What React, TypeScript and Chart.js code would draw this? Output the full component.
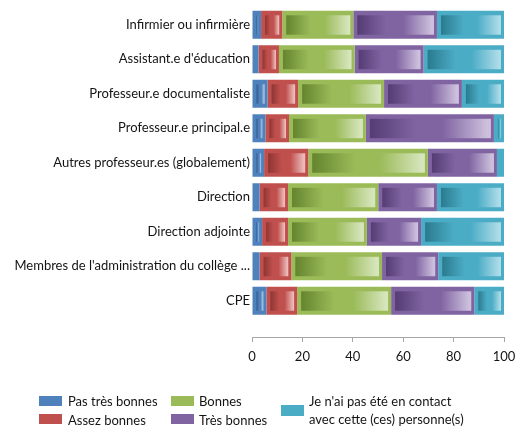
import { useEffect, useRef } from 'react';
import { Chart, registerables } from 'chart.js';

Chart.register(...registerables);

const categories = [
  'Infirmier ou infirmière',
  "Assistant.e d'éducation",
  'Professeur.e documentaliste',
  'Professeur.e principal.e',
  'Autres professeur.es (globalement)',
  'Direction',
  'Direction adjointe',
  "Membres de l'administration du collège ...",
  'CPE',
];

const seriesNames = [
  'Pas très bonnes',
  'Assez bonnes',
  'Bonnes',
  'Très bonnes',
  "Je n'ai pas été en contact avec cette (ces) personne(s)",
];

const pasTresBonnes = [3.6, 2.6, 6.2, 5.3, 4.8, 3.0, 4.0, 3.0, 5.7];
const assezBonnes = [8.4, 8.1, 12.1, 9.4, 17.5, 11.3, 10.3, 12.6, 12.2];
const bonnes = [28.2, 30.0, 34.1, 30.5, 47.5, 35.8, 31.3, 36.0, 37.3];
const tresBonnes = [33.2, 27.4, 30.9, 50.8, 27.4, 23.3, 21.5, 22.3, 33.0];
const pasEnContact = [26.6, 31.9, 16.7, 4.0, 2.8, 26.6, 32.9, 26.1, 11.8];

const xTicks = [0, 20, 40, 60, 80, 100];

const legendLines = [
  ['Pas très bonnes'],
  ['Assez bonnes'],
  ['Bonnes'],
  ['Très bonnes'],
  ["Je n'ai pas été en contact", 'avec cette (ces) personne(s)'],
];

const palette = [
  { base: '#4F81BD', dark: '#30598A', light: '#B8CCE6' },
  { base: '#C0504D', dark: '#8E3533', light: '#EDBDBC' },
  { base: '#9BBB59', dark: '#64842F', light: '#D6E5BC' },
  { base: '#8064A2', dark: '#553C73', light: '#CDC0DD' },
  { base: '#4BACC6', dark: '#2A7A8D', light: '#ADDCE8' },
];

const FONT = 'Lato, "Liberation Sans", sans-serif';
const TEXT = '#141414';

const gradientPlugin = {
  id: 'innerGradient',
  afterDatasetsDraw(chart: any) {
    const ctx = chart.ctx as CanvasRenderingContext2D;
    ctx.save();
    chart.data.datasets.forEach((_ds: any, di: number) => {
      const meta = chart.getDatasetMeta(di);
      const pal = palette[di];
      meta.data.forEach((el: any) => {
        const { x, y, base, height } = el.getProps(['x', 'y', 'base', 'height'], true);
        const left = Math.min(x, base);
        const right = Math.max(x, base);
        const top = y - height / 2;
        const il = left + 4;
        const ir = right - 3;
        const it = top + 4.5;
        const ib = top + height - 4;
        if (ir - il < 1) return;
        const g = ctx.createLinearGradient(il, 0, ir, 0);
        g.addColorStop(0, pal.dark);
        g.addColorStop(0.38, pal.base);
        g.addColorStop(0.6, pal.base);
        g.addColorStop(0.97, pal.light);
        g.addColorStop(1, pal.light);
        ctx.fillStyle = g;
        ctx.fillRect(il, it, ir - il, ib - it);
      });
    });
    ctx.restore();
  },
};

const legendPlugin = {
  id: 'columnLegend',
  afterDraw(chart: any) {
    const ctx = chart.ctx as CanvasRenderingContext2D;
    const items = [
      { box: [39, 396, 23, 10], tx: 68, ty: [402] },
      { box: [39, 414, 23, 10], tx: 68, ty: [420.5] },
      { box: [171, 396, 23, 10], tx: 199, ty: [402] },
      { box: [171, 414, 23, 10], tx: 199, ty: [420.5] },
      { box: [281, 405, 23, 11], tx: 309, ty: [401.5, 419.5] },
    ];
    ctx.save();
    ctx.font = `13px ${FONT}`;
    ctx.textBaseline = 'middle';
    ctx.textAlign = 'left';
    items.forEach((it, i) => {
      const [bx, by, bw, bh] = it.box;
      ctx.fillStyle = palette[i].base;
      ctx.fillRect(bx, by, bw, bh);
      ctx.fillStyle = TEXT;
      legendLines[i].forEach((line, li) => {
        ctx.fillText(line, it.tx, it.ty[li]);
      });
    });
    ctx.restore();
  },
};

export default function App() {
  const ref = useRef<HTMLCanvasElement>(null);

  useEffect(() => {
    document.body.style.margin = '0';
    const canvas = ref.current;
    if (!canvas) return;
    const series = [pasTresBonnes, assezBonnes, bonnes, tresBonnes, pasEnContact];
    const datasets = series.map((arr, k) => ({
      label: seriesNames[k],
      data: arr.map((v, i) => ({ x: v, y: i })),
      backgroundColor: palette[k].base,
      borderWidth: 0,
      barPercentage: 0.81,
      categoryPercentage: 1,
    }));

    const chart = new Chart(canvas, {
      type: 'bar',
      data: { datasets } as any,
      options: {
        indexAxis: 'y',
        animation: false,
        responsive: false,
        maintainAspectRatio: false,
        layout: { padding: { top: 7.5, right: 16, bottom: 56.4, left: 0 } },
        plugins: {
          legend: { display: false },
          tooltip: { enabled: false },
        },
        scales: {
          x: {
            type: 'linear',
            stacked: true,
            min: 0,
            max: 100,
            afterBuildTicks: (s: any) => {
              s.ticks = xTicks.map((v) => ({ value: v }));
            },
            afterFit: (s: any) => {
              s.paddingLeft = 0;
              s.paddingRight = 0;
            },
            grid: { drawOnChartArea: false, drawTicks: true, tickLength: 5, color: '#a6a6a6' },
            border: { display: true, color: '#a6a6a6' },
            ticks: { padding: 7, color: TEXT, font: { family: FONT, size: 13 } },
          },
          y: {
            type: 'linear',
            stacked: true,
            reverse: true,
            offset: false,
            bounds: 'data',
            min: -0.5,
            max: 9.05,
            afterBuildTicks: (s: any) => {
              s.ticks = categories.map((_, i) => ({ value: i }));
            },
            afterFit: (s: any) => {
              s.width = 252;
              s.paddingTop = 0;
              s.paddingBottom = 0;
            },
            grid: { display: false, drawTicks: false, offset: false },
            border: { display: false },
            ticks: {
              autoSkip: false,
              padding: 2,
              color: TEXT,
              font: { family: FONT, size: 13 },
              callback: (v: any) => categories[Number(v)] ?? '',
            },
          },
        } as any,
      },
      plugins: [gradientPlugin, legendPlugin],
    });
    return () => chart.destroy();
  }, []);

  return (
    <div style={{ width: 520, height: 428 }}>
      <canvas ref={ref} width={520} height={428} style={{ display: 'block' }} />
    </div>
  );
}
